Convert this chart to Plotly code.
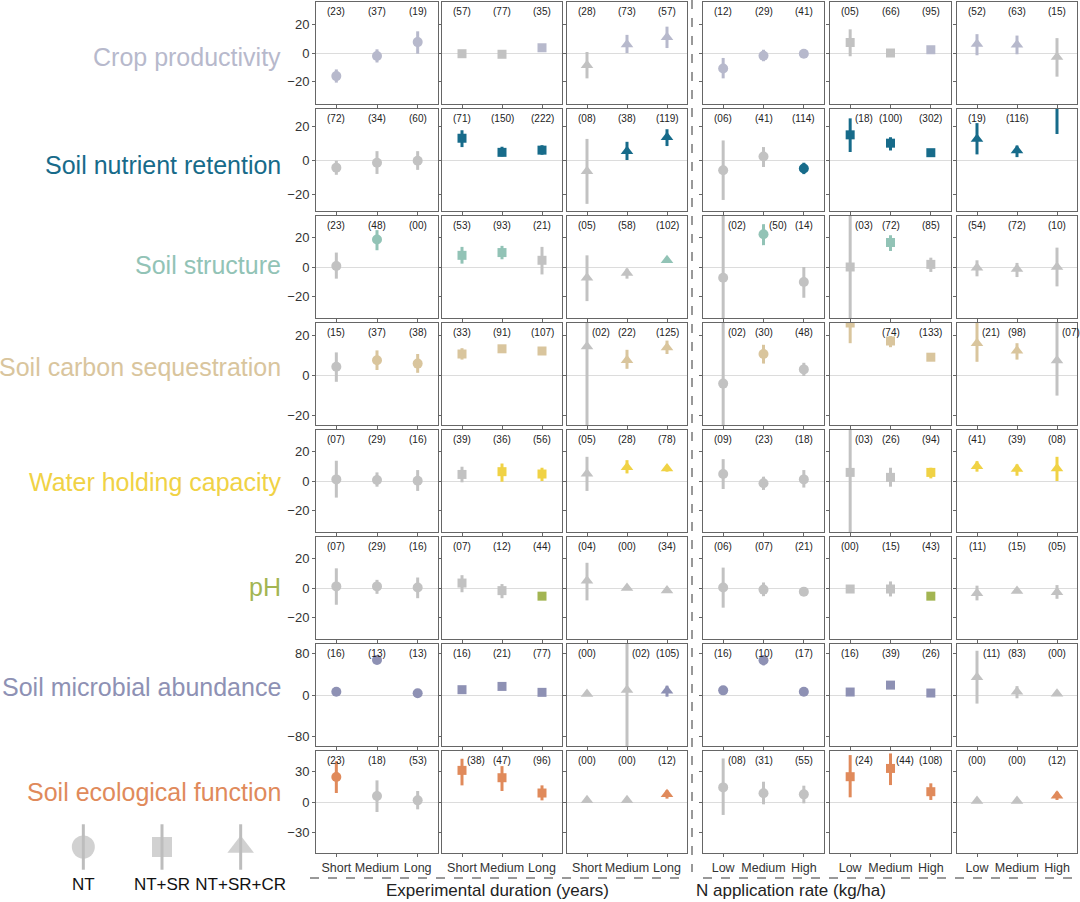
import plotly.graph_objects as go
from plotly.subplots import make_subplots

# Row names and their highlight colours
row_names = ["Crop productivity", "Soil nutrient retention", "Soil structure",
             "Soil carbon sequestration", "Water holding capacity", "pH",
             "Soil microbial abundance", "Soil ecological function"]
row_colors = ["#b7b9cc", "#176b8a", "#92c3b6", "#d9c59d",
              "#f0d245", "#a3b552", "#8e91b4", "#e08a5b"]
grey = "#c2c2c2"

duration_labels = ["Short", "Medium", "Long"]
rate_labels = ["Low", "Medium", "High"]
practices = ["NT", "NT+SR", "NT+SR+CR"]

# 18 values per row: 3 practices x duration, then 3 practices x N rate
crop_mean = [-16.3, -2.1, 7.7, -0.5, -0.9, 3.7, -8.6, 6.0, 11.2, -10.9, -1.9, -0.5, 7.4, 0.0, 2.3, 6.3, 5.8, -2.8]
crop_lo = [-20.9, -6.7, -0.5, -1.5, -1.9, 1.4, -17.9, 0.0, 3.5, -17.9, -5.8, -2.8, -2.3, -1.0, 1.0, -1.6, -0.9, -16.7]
crop_hi = [-11.6, 2.6, 15.3, 0.5, 0.1, 6.0, 0.7, 12.8, 18.6, -3.5, 2.3, 1.9, 16.7, 1.0, 3.6, 13.3, 12.3, 10.5]
crop_n = ["23", "37", "19", "57", "77", "35", "28", "73", "57", "12", "29", "41", "05", "66", "95", "52", "63", "15"]
crop_sig = [1, 1, 1, 0, 0, 1, 0, 1, 1, 1, 1, 1, 0, 0, 1, 1, 1, 0]

nutr_mean = [-4.5, -1.6, -0.4, 12.8, 4.5, 5.8, -6.6, 5.2, 13.4, -6.0, 2.1, -5.0, 14.8, 9.9, 4.3, 12.4, 5.6, 40.0]
nutr_lo = [-8.7, -8.2, -5.8, 7.6, 2.1, 3.1, -25.8, 0.0, 8.2, -23.5, -4.1, -8.3, 4.7, 5.6, 2.7, 3.3, 1.7, 15.3]
nutr_hi = [-0.4, 5.2, 5.2, 17.5, 7.8, 8.7, 12.4, 10.7, 18.1, 11.5, 7.6, -1.6, 24.5, 13.4, 5.6, 21.7, 8.5, 65.0]
nutr_n = ["72", "34", "60", "71", "150", "222", "08", "38", "119", "06", "41", "114", "18", "100", "302", "19", "116", ""]
nutr_sig = [0, 0, 0, 1, 1, 1, 0, 1, 1, 0, 0, 1, 1, 1, 1, 1, 1, 1]

struc_mean = [0.7, 18.9, None, 8.0, 9.9, 4.6, -7.4, -4.1, 4.6, -7.4, 22.5, -10.3, 0.0, 16.8, 1.8, -0.5, -1.4, 0.0]
struc_lo = [-8.0, 11.5, None, 2.3, 5.3, -5.1, -23.4, -8.0, 3.0, -60.0, 15.0, -21.1, -60.0, 11.0, -3.4, -6.4, -6.9, -13.3]
struc_hi = [9.9, 25.3, None, 13.8, 14.5, 13.8, 8.0, -1.1, 6.2, 60.0, 29.4, 0.0, 60.0, 21.8, 6.4, 4.6, 2.8, 13.3]
struc_n = ["23", "48", "00", "53", "93", "21", "05", "58", "102", "02", "50", "14", "03", "72", "85", "54", "72", "10"]
struc_sig = [0, 1, 0, 1, 1, 0, 0, 0, 1, 0, 1, 0, 0, 1, 0, 0, 0, 0]

carb_mean = [4.1, 7.4, 5.7, 10.5, 13.1, 12.0, 14.3, 7.4, 13.8, -4.3, 10.5, 2.8, 26.0, 17.0, 8.9, 15.9, 12.1, 7.2]
carb_lo = [-3.4, 2.5, 1.1, 7.7, 11.3, 10.5, -40.0, 3.1, 10.5, -40.0, 5.7, -0.5, 15.9, 13.9, 7.9, 6.6, 7.7, -10.3]
carb_hi = [11.3, 12.3, 10.5, 13.4, 14.6, 13.4, 40.0, 12.6, 17.2, 40.0, 15.1, 6.1, 40.0, 19.5, 9.9, 30.0, 15.9, 40.0]
carb_n = ["15", "37", "38", "33", "91", "107", "02", "22", "125", "02", "30", "48", "", "74", "133", "21", "98", "07"]
carb_sig = [0, 1, 1, 1, 1, 1, 0, 1, 1, 0, 1, 0, 1, 1, 1, 1, 1, 0]

water_mean = [1.1, 0.7, 0.2, 4.5, 6.4, 4.8, 5.0, 9.5, 8.6, 4.8, -1.6, 1.1, 5.9, 2.5, 5.9, 10.2, 8.2, 8.6]
water_lo = [-11.4, -3.9, -6.8, -0.9, -0.5, 0.0, -6.8, 5.2, 6.4, -5.5, -6.1, -4.5, -60.0, -3.9, 1.8, 6.4, 3.6, 0.0]
water_hi = [13.9, 5.9, 7.5, 9.8, 12.0, 9.1, 16.6, 14.3, 10.5, 15.0, 3.0, 7.5, 60.0, 9.1, 9.1, 13.6, 11.4, 16.6]
water_n = ["07", "29", "16", "39", "36", "56", "05", "28", "78", "09", "23", "18", "03", "26", "94", "41", "39", "08"]
water_sig = [0, 0, 0, 0, 1, 1, 0, 1, 1, 0, 0, 0, 0, 0, 1, 1, 1, 1]

ph_mean = [1.1, 1.1, 0.4, 3.4, -1.8, -5.6, 4.9, 0.0, -1.8, 0.4, -1.1, -2.5, -0.7, -0.7, -5.6, -3.6, -2.0, -2.9]
ph_lo = [-11.5, -4.0, -7.0, -2.9, -7.0, -6.6, -8.5, -0.5, -2.5, -13.5, -5.6, -3.5, -1.2, -5.8, -6.6, -8.5, -3.0, -7.4]
ph_hi = [13.5, 5.6, 7.2, 8.8, 2.7, -4.6, 17.3, 0.5, -1.0, 14.0, 3.8, -1.5, -0.2, 4.5, -4.6, 1.6, -1.0, 2.0]
ph_n = ["07", "29", "16", "07", "12", "44", "04", "00", "34", "06", "07", "21", "00", "15", "43", "11", "15", "05"]
ph_sig = [0, 0, 0, 0, 0, 1, 0, 0, 0, 0, 0, 0, 0, 0, 1, 0, 0, 0]

micro_mean = [6.3, 67.3, 3.2, 10.2, 16.5, 5.1, 1.9, 9.5, 8.3, 8.9, 66.7, 6.3, 5.7, 19.0, 3.8, 34.3, 6.3, 2.5]
micro_lo = [3.5, 62.0, 0.5, 7.5, 13.5, 2.5, 0.0, -150.0, -3.2, 6.0, 57.0, 3.5, 3.0, 16.0, 1.0, -16.5, -6.3, 0.5]
micro_hi = [9.0, 72.0, 6.0, 13.0, 19.5, 7.5, 4.0, 150.0, 17.8, 12.0, 76.0, 9.0, 8.5, 22.0, 6.5, 85.0, 17.0, 4.5]
micro_n = ["16", "13", "13", "16", "21", "77", "00", "02", "105", "16", "10", "17", "16", "39", "26", "11", "83", "00"]
micro_sig = [1, 1, 1, 1, 1, 1, 0, 0, 1, 1, 1, 1, 1, 1, 1, 0, 0, 0]

eco_mean = [24.5, 5.9, 1.6, 31.0, 23.8, 8.8, 1.6, 1.6, 7.5, 14.3, 8.5, 7.5, 24.8, 32.9, 10.1, 1.0, 1.0, 6.2]
eco_lo = [8.8, -9.8, -7.2, 16.3, 10.8, 1.6, 0.5, 0.5, 3.3, -12.7, -2.3, -1.3, 4.6, 16.6, 2.0, 0.0, 0.0, 2.0]
eco_hi = [40.0, 21.2, 10.8, 42.4, 35.2, 16.3, 2.7, 2.7, 11.4, 42.7, 19.9, 16.0, 46.0, 47.6, 18.3, 2.0, 2.0, 10.0]
eco_n = ["23", "18", "53", "38", "47", "96", "00", "00", "12", "08", "31", "55", "24", "44", "108", "00", "00", "12"]
eco_sig = [1, 0, 0, 1, 1, 1, 0, 0, 1, 0, 0, 0, 1, 1, 1, 0, 0, 1]

# y-axis range and ticks per row
row_ranges = [[-36, 36], [-30, 30], [-35, 35], [-25, 26], [-35, 35], [-35, 35], [-98, 98], [-50, 50]]
row_ticks = [[-20, 0, 20]] * 6 + [[-80, 0, 80], [-30, 0, 30]]

rows = [
    (crop_mean, crop_lo, crop_hi, crop_n, crop_sig),
    (nutr_mean, nutr_lo, nutr_hi, nutr_n, nutr_sig),
    (struc_mean, struc_lo, struc_hi, struc_n, struc_sig),
    (carb_mean, carb_lo, carb_hi, carb_n, carb_sig),
    (water_mean, water_lo, water_hi, water_n, water_sig),
    (ph_mean, ph_lo, ph_hi, ph_n, ph_sig),
    (micro_mean, micro_lo, micro_hi, micro_n, micro_sig),
    (eco_mean, eco_lo, eco_hi, eco_n, eco_sig),
]

W, H = 1080, 902
FONT = "Liberation Sans, Arial, sans-serif"
symbols = ["circle", "square", "triangle-up"]
msize = {"circle": 10, "square": 9, "triangle-up": 11}

# panel layout in pixels
col_px = [(316, 438), (442, 562), (567, 687), (703, 824), (830, 951), (957, 1077)]
row_top = [2 + 107 * r for r in range(8)]
row_h = 102
label_y = [57, 165, 265, 367, 482, 587, 687, 792]


def px_x(p):
    return p / W


def px_y(p):
    return 1 - p / H


fig = make_subplots(rows=8, cols=6)

for r in range(8):
    mean, lo, hi, n, sig = rows[r]
    for c in range(6):
        sym = symbols[c % 3]
        xlabels = duration_labels if c < 3 else rate_labels
        for k in range(3):
            i = c * 3 + k
            if mean[i] is None:
                continue
            col = row_colors[r] if sig[i] else grey
            fig.add_trace(go.Scatter(
                x=[k], y=[mean[i]], mode="markers",
                marker=dict(symbol=sym, size=msize[sym], color=col, line=dict(width=0)),
                error_y=dict(type="data", symmetric=False,
                             array=[hi[i] - mean[i]], arrayminus=[mean[i] - lo[i]],
                             color=col, thickness=3, width=0),
                showlegend=False, hoverinfo="skip"),
                row=r + 1, col=c + 1)

        x0, x1 = col_px[c]
        fig.update_xaxes(row=r + 1, col=c + 1,
                         domain=[px_x(x0), px_x(x1)], range=[-0.5, 2.5],
                         tickvals=[0, 1, 2], ticktext=xlabels, tickangle=0,
                         automargin=False,
                         showticklabels=(r == 7), ticks="outside", ticklen=3,
                         tickcolor="#666", showgrid=False, zeroline=False,
                         showline=True, mirror=True, linecolor="#666", linewidth=1,
                         tickfont=dict(family=FONT, size=12.5, color="#333"))
        fig.update_yaxes(row=r + 1, col=c + 1,
                         domain=[px_y(row_top[r] + row_h), px_y(row_top[r])],
                         range=row_ranges[r], tickvals=row_ticks[r],
                         automargin=False,
                         showticklabels=(c == 0), ticks="outside", ticklen=3,
                         tickcolor="#666", showgrid=False,
                         zeroline=True, zerolinecolor="#dcdcdc", zerolinewidth=1,
                         showline=True, mirror=True, linecolor="#666", linewidth=1,
                         tickfont=dict(family=FONT, size=13, color="#333"))

        # sample counts above each point
        idx = r * 6 + c + 1
        xref = "x" if idx == 1 else f"x{idx}"
        top = row_ranges[r][1]
        for k in range(3):
            i = c * 3 + k
            if not n[i]:
                continue
            shift = 14 if (hi[i] is not None and hi[i] > 0.8 * top) else 0
            fig.add_annotation(x=k, xref=xref, y=px_y(row_top[r] + 9), yref="paper",
                               yanchor="middle",
                               text=f"({n[i]})", showarrow=False, xshift=shift,
                               font=dict(family=FONT, size=10, color="#222"))

    # row label
    fig.add_annotation(x=px_x(283), y=px_y(label_y[r]), xref="paper", yref="paper",
                       text=row_names[r], showarrow=False, xanchor="right", yanchor="middle",
                       font=dict(family=FONT, size=25, color=row_colors[r]))

# legend drawn as a small extra axis
fig.add_trace(go.Scatter(
    x=practices, y=[0, 0, 0], mode="markers",
    marker=dict(symbol=symbols, size=[23, 20, 23], color="#bdbdbd", line=dict(width=0)),
    error_y=dict(type="data", array=[1, 1, 1], color="#bdbdbd", thickness=3, width=0),
    showlegend=False, hoverinfo="skip", xaxis="x49", yaxis="y49"))
fig.update_layout(
    xaxis49=dict(domain=[px_x(44), px_x(280)], anchor="y49", range=[-0.5, 2.5],
                 showline=False, showgrid=False, automargin=False,
                 zeroline=False, ticks="", tickfont=dict(family=FONT, size=17, color="#111")),
    yaxis49=dict(domain=[px_y(872), px_y(822)], anchor="x49", range=[-1.1, 1.1],
                 visible=False, automargin=False),
)

# axis group titles
fig.add_annotation(x=px_x(497), y=px_y(890), xref="paper", yref="paper", yanchor="middle",
                   text="Experimental duration (years)", showarrow=False,
                   font=dict(family=FONT, size=17, color="#222"))
fig.add_annotation(x=px_x(888), y=px_y(890), xref="paper", yref="paper", yanchor="middle",
                   text="N application rate (kg/ha)", showarrow=False,
                   font=dict(family=FONT, size=17, color="#222"))

# dashed separators
dash = dict(color="#333", width=1, dash="dash")
fig.add_shape(type="line", xref="paper", yref="paper", x0=px_x(692), x1=px_x(692),
              y0=px_y(0), y1=px_y(872), line=dash)
fig.add_shape(type="line", xref="paper", yref="paper", x0=px_x(310), x1=px_x(688),
              y0=px_y(878), y1=px_y(878), line=dash)
fig.add_shape(type="line", xref="paper", yref="paper", x0=px_x(703), x1=px_x(1078),
              y0=px_y(878), y1=px_y(878), line=dash)

fig.update_layout(width=W, height=H, margin=dict(l=0, r=0, t=0, b=0),
                  plot_bgcolor="white", paper_bgcolor="white",
                  font=dict(family=FONT), showlegend=False)

# page body margin off so the figure fills the window exactly
fig.write_html("out.html", config={"displayModeBar": False},
               post_script="document.body.style.margin='0';")
